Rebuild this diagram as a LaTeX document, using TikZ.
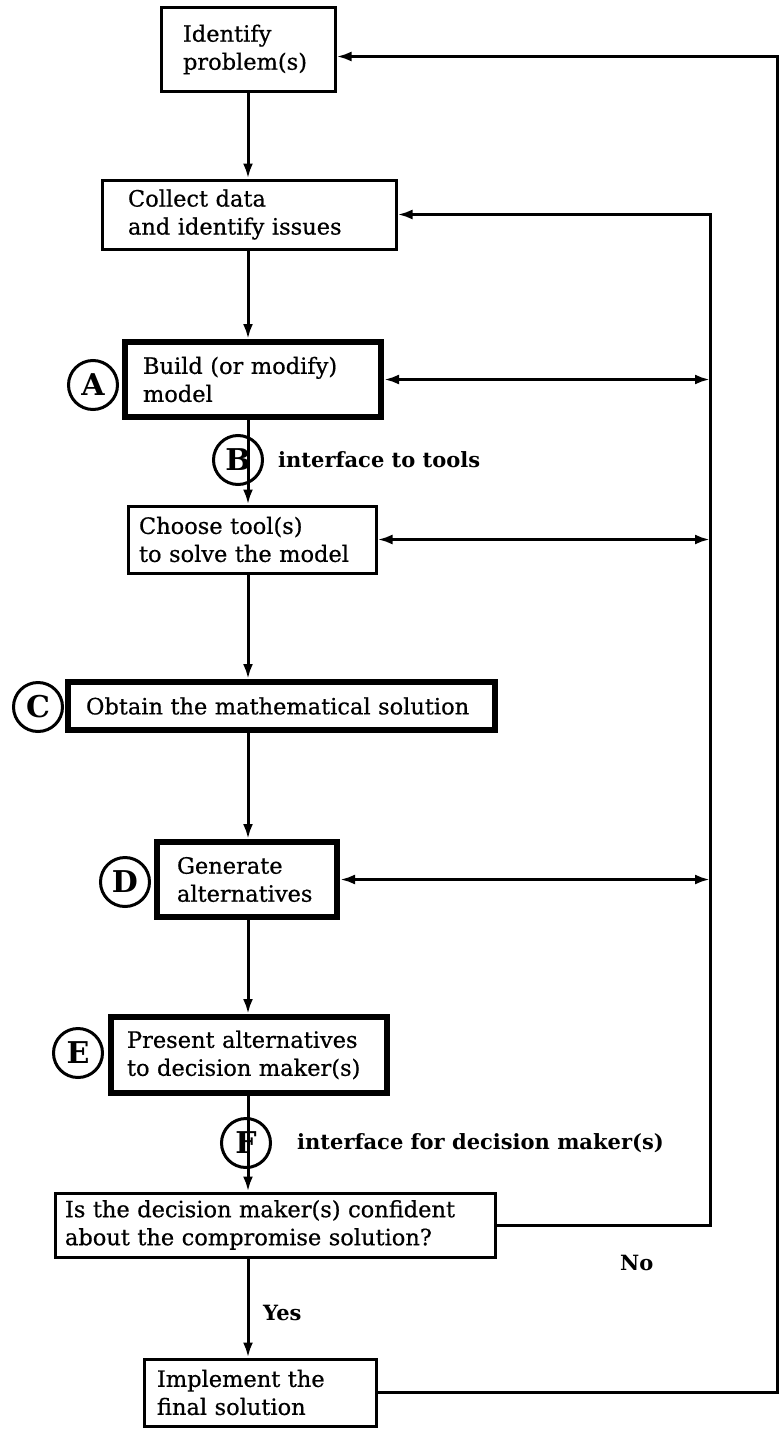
\documentclass[tikz,border=0pt]{standalone}
\usepackage{fontspec}
\setmainfont{DejaVu Serif}
\newfontfamily\boxfont{DejaVu Serif}[FakeBold=0.6]
\usetikzlibrary{arrows.meta}
\begin{document}
\begin{tikzpicture}[x=1pt,y=-1pt,
  box/.style={draw, line width=3pt, align=left, inner ysep=0pt, font=\boxfont\fontsize{22.5}{28}\selectfont},
  heavy/.style={box, line width=6pt},
  circ/.style={draw, circle, line width=3pt, minimum size=49pt, inner sep=0pt, font=\fontsize{30}{30}\selectfont\bfseries},
  lbl/.style={font=\fontsize{21}{24}\selectfont\bfseries, anchor=west, inner sep=0pt},
  arr/.style={line width=3pt, -{Latex[length=15pt,width=10pt]}},
  darr/.style={line width=3pt, {Latex[length=15pt,width=10pt]}-{Latex[length=15pt,width=10pt]}}
]
\fill[white] (0,0) rectangle (782,1429);
\useasboundingbox (0,0) rectangle (782,1429);

\coordinate (sp) at (248,0);
\coordinate (mid) at (710,0);
\coordinate (far) at (777,0);

\node[box, text width=130pt, inner xsep=22pt, minimum height=83pt] (ident) at (248,49.5) {Identify\\problem(s)};
\node[box, text width=242pt, inner xsep=26pt, minimum height=69pt] (collect) at (249,214.5) {Collect data\\and identify issues};
\node[heavy, text width=220pt, inner xsep=18pt, minimum height=75pt] (build) at (253,379.5) {Build (or modify)\\model};
\node[box, text width=226pt, inner xsep=11pt, minimum height=67pt] (choose) at (252,539.5) {Choose tool(s)\\to solve the model};
\node[heavy, text width=391pt, inner xsep=18pt, minimum height=48pt] (obtain) at (281.5,706) {Obtain the mathematical solution};
\node[heavy, text width=140pt, inner xsep=20pt, minimum height=75pt] (gen) at (247,879.5) {Generate\\alternatives};
\node[heavy, text width=244pt, inner xsep=16pt, minimum height=76pt] (pres) at (249,1055) {Present alternatives\\to decision maker(s)};
\node[box, text width=420pt, inner xsep=10pt, minimum height=64pt] (conf) at (275,1225) {Is the decision maker(s) confident\\about the compromise solution?};
\node[box, text width=206pt, inner xsep=13pt, minimum height=67pt] (impl) at (260,1392.5) {Implement the\\final solution};

\coordinate (idin) at ([yshift=-7pt]ident.east);

\draw[arr] (ident.south -| sp) -- (collect.north -| sp);
\draw[arr] (collect.south -| sp) -- (build.north -| sp);
\draw[arr] (build.south -| sp) -- (choose.north -| sp);
\draw[arr] (choose.south -| sp) -- (obtain.north -| sp);
\draw[arr] (obtain.south -| sp) -- (gen.north -| sp);
\draw[arr] (gen.south -| sp) -- (pres.north -| sp);
\draw[arr] (pres.south -| sp) -- (conf.north -| sp);
\draw[arr] (conf.south -| sp) -- (impl.north -| sp);

\draw[darr] (build.east) -- (build.east -| mid);
\draw[darr] (choose.east) -- (choose.east -| mid);
\draw[darr] (gen.east) -- (gen.east -| mid);
\draw[arr] (conf.east) -- (conf.east -| mid) -- (collect.east -| mid) -- (collect.east);
\draw[arr] (impl.east) -- (impl.east -| far) -- (idin -| far) -- (idin);

\node[circ] (cA) at (93,385) {A};
\node[circ] (cB) at (238,460) {B};
\node[circ] (cC) at (38,707) {C};
\node[circ] (cD) at (125,882) {D};
\node[circ] (cE) at (78,1053) {E};
\node[circ] (cF) at (246,1143) {F};

\node[lbl] (lB) at (278,460) {interface to tools};
\node[lbl] (lF) at (297,1143) {interface for decision maker(s)};
\node[lbl] (yes) at (263,1313) {Yes};
\node[lbl] (no) at (620,1263) {No};
\end{tikzpicture}
\end{document}
